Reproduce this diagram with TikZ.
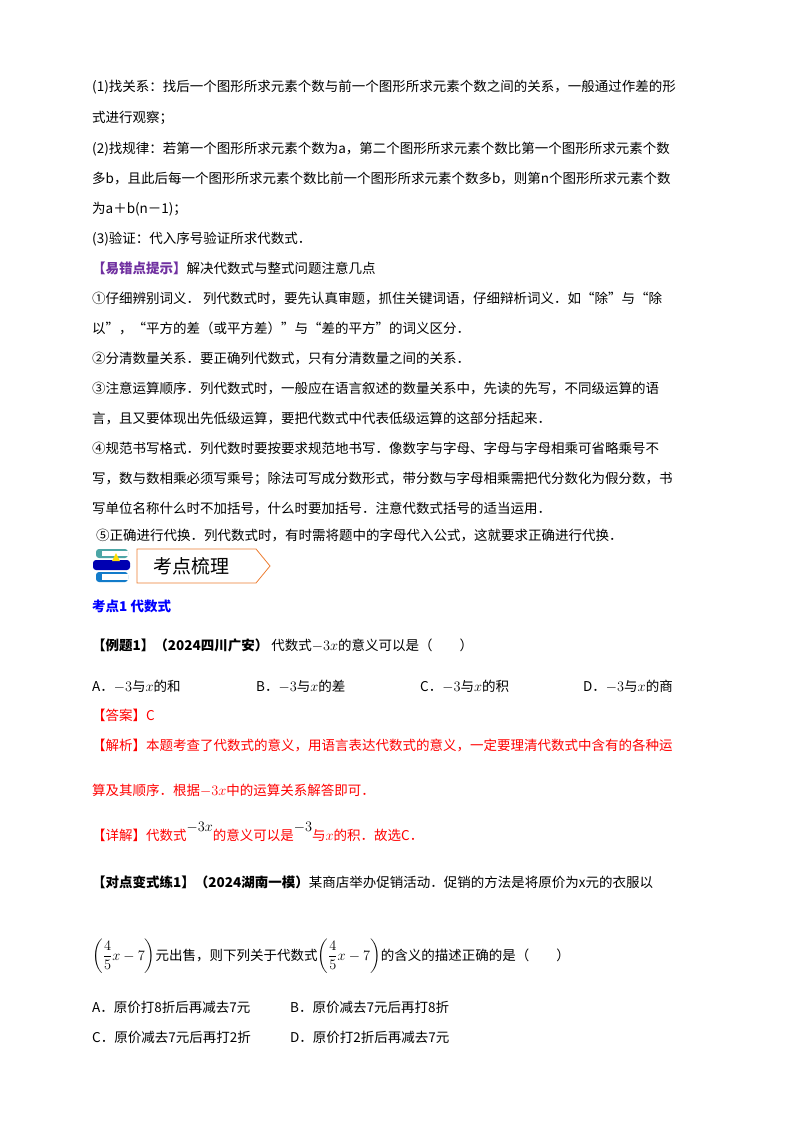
\documentclass[tikz,border=0pt]{standalone}
\usepackage{amsmath}
\usepackage{fontspec}
\setmainfont{Noto Sans CJK SC}
\definecolor{pur}{HTML}{7030A0}
\definecolor{org}{HTML}{ED7D31}
\newcommand{\mth}[1]{{\fontsize{15.5}{16}\selectfont$#1$}}
\begin{document}
\begin{tikzpicture}[x=1pt,y=-1pt,
  ln/.style={anchor=base west,inner sep=0pt,font=\fontsize{13.5}{16}\selectfont},
  rd/.style={ln,text=red}]
\useasboundingbox (0,0) rectangle (800,1132);
\fill[white] (0,0) rectangle (800,1132);
\node[ln] (l1) at (92,92) {(1)找关系：找后一个图形所求元素个数与前一个图形所求元素个数之间的关系，一般通过作差的形};
\node[ln] (l2) at (92,122) {式进行观察；};
\node[ln] (l3) at (92,153) {(2)找规律：若第一个图形所求元素个数为a，第二个图形所求元素个数比第一个图形所求元素个数};
\node[ln] (l4) at (92,183) {多b，且此后每一个图形所求元素个数比前一个图形所求元素个数多b，则第n个图形所求元素个数};
\node[ln] (l5) at (92,213) {为a＋b(n－1)；};
\node[ln] (l6) at (92,243) {(3)验证：代入序号验证所求代数式．};
\node[ln] (l7) at (92,273) {\textcolor{pur}{\bfseries 【易错点提示】}解决代数式与整式问题注意几点};
\node[ln] (l8) at (92,303) {①仔细辨别词义． 列代数式时，要先认真审题，抓住关键词语，仔细辩析词义．如“除”与“除};
\node[ln] (l9) at (92,333) {以”，“平方的差（或平方差）”与“差的平方”的词义区分．};
\node[ln] (l10) at (92,363) {②分清数量关系．要正确列代数式，只有分清数量之间的关系．};
\node[ln] (l11) at (92,393) {③注意运算顺序．列代数式时，一般应在语言叙述的数量关系中，先读的先写，不同级运算的语};
\node[ln] (l12) at (92,423) {言，且又要体现出先低级运算，要把代数式中代表低级运算的这部分括起来．};
\node[ln] (l13) at (92,453) {④规范书写格式．列代数时要按要求规范地书写．像数字与字母、字母与字母相乘可省略乘号不};
\node[ln] (l14) at (92,483) {写，数与数相乘必须写乘号；除法可写成分数形式，带分数与字母相乘需把代分数化为假分数，书};
\node[ln] (l15) at (92,513) {写单位名称什么时不加括号，什么时要加括号．注意代数式括号的适当运用．};
\node[ln] (l16) at (96,540) {⑤正确进行代换．列代数式时，有时需将题中的字母代入公式，这就要求正确进行代换．};
% icon
\fill[teal!70, rounded corners=3pt] (96,549) rectangle (128,558);
\fill[blue!70!black, rounded corners=3pt] (93,560) rectangle (130,570);
\fill[cyan!60!blue, rounded corners=3pt] (96,572) rectangle (128,582);
\fill[white] (102,551) rectangle (128,556);
\fill[white] (102,574) rectangle (128,580);
\fill[yellow!80!orange] (116,553) -- (120,561) -- (112,561) -- cycle;
\draw[org,line width=0.8pt] (137,549) -- (256,549) -- (270,566) -- (256,583) -- (137,583) -- cycle;
\node[anchor=west,font=\fontsize{19}{22}\selectfont] (hd) at (150,566) {考点梳理};
\node[ln,text=blue,font=\bfseries\fontsize{13.5}{16}\selectfont] (k1) at (92,611) {考点1 代数式};
\node[ln] (e1) at (92,650) {\textbf{【例题1】（2024四川广安）} 代数式\mth{-3x}的意义可以是（\qquad）};
\node[ln] (oa) at (92,691) {A．\mth{-3}与\mth{x}的和};
\node[ln] (ob) at (256,691) {B．\mth{-3}与\mth{x}的差};
\node[ln] (oc) at (420,691) {C．\mth{-3}与\mth{x}的积};
\node[ln] (od) at (583,691) {D．\mth{-3}与\mth{x}的商};
\node[rd] (an) at (92,720) {【答案】C};
\node[rd] (j1) at (92,750) {【解析】本题考查了代数式的意义，用语言表达代数式的意义，一定要理清代数式中含有的各种运};
\node[rd] (j2) at (92,795) {算及其顺序．根据\mth{-3x}中的运算关系解答即可．};
\node[rd] (xj) at (92,840) {【详解】代数式\raisebox{9pt}{\textcolor{black}{\mth{-3x}}}的意义可以是\raisebox{9pt}{\textcolor{black}{\mth{-3}}}与\mth{x}的积．故选C．};
\node[ln] (t1) at (92,887) {\textbf{【对点变式练1】（2024湖南一模）}某商店举办促销活动．促销的方法是将原价为x元的衣服以};
\node[ln] (t2) at (92,960) {\mth{\left(\dfrac{4}{5}x-7\right)}元出售，则下列关于代数式\mth{\left(\dfrac{4}{5}x-7\right)}的含义的描述正确的是（\qquad）};
\node[ln] (pa) at (92,1012) {A．原价打8折后再减去7元};
\node[ln] (pb) at (290,1012) {B．原价减去7元后再打8折};
\node[ln] (pc) at (92,1042) {C．原价减去7元后再打2折};
\node[ln] (pd) at (290,1042) {D．原价打2折后再减去7元};
\end{tikzpicture}
\end{document}
